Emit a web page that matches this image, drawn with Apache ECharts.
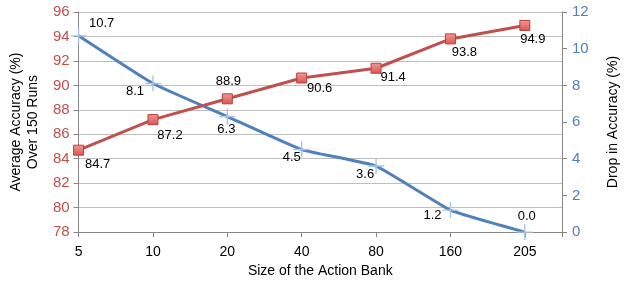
<!DOCTYPE html>
<html><head><meta charset="utf-8">
<script src="https://cdn.jsdelivr.net/npm/echarts@6/dist/echarts.min.js"></script>
<style>html,body{margin:0;padding:0;background:#fff}#c{width:628px;height:283px}</style>
</head><body><div id="c"></div>
<script>
const categories = ['5', '10', '20', '40', '80', '160', '205'];
const accuracy = [84.7, 87.2, 88.9, 90.6, 91.4, 93.8, 94.9];
const drop = [10.7, 8.1, 6.3, 4.5, 3.6, 1.2, 0.0];
const leftTicks = [78, 80, 82, 84, 86, 88, 90, 92, 94, 96];
const rightTicks = [0, 2, 4, 6, 8, 10, 12];

// label offsets (style only)
const accOffsets = [[19,14],[17,16],[1,-17],[18,10],[17,9],[14,14],[8,14]];
const dropOffsets = [[23,-12],[-18,8],[-1,13],[-10,8],[-11,8],[-18,5],[2,-16]];

const FONT = 'Liberation Sans, Arial, sans-serif';
const RED = '#C0504D', BLUE = '#4F81BD';
const plus = 'path://M-0.7,-8 h1.4 v7.3 h7.3 v1.4 h-7.3 v7.3 h-1.4 v-7.3 h-7.3 v-1.4 h7.3 z';

const chart = echarts.init(document.getElementById('c'));
chart.setOption({
  animation: false,
  textStyle: { fontFamily: FONT },
  grid: { left: 77, right: 61, top: 12, bottom: 50 },
  xAxis: {
    type: 'value', min: 0, max: categories.length - 0.5, interval: 1,
    name: 'Size of the Action Bank', nameLocation: 'middle', nameGap: 31,
    nameTextStyle: { fontSize: 14, color: '#000', fontFamily: FONT },
    axisLine: { lineStyle: { color: '#868686' } },
    axisTick: { length: 5, lineStyle: { color: '#868686' } },
    axisLabel: { fontSize: 14, color: '#000', margin: 13, fontFamily: FONT,
      formatter: v => Number.isInteger(v) ? categories[v] : '' },
    splitLine: { show: false }
  },
  yAxis: [{
    type: 'value', min: leftTicks[0], max: leftTicks[leftTicks.length-1], interval: 2,
    name: 'Average Accuracy (%)\nOver 150 Runs', nameLocation: 'middle', nameGap: 34,
    nameTextStyle: { fontSize: 14, color: '#000', lineHeight: 17, fontFamily: FONT },
    axisLine: { show: true, lineStyle: { color: '#868686' } },
    axisTick: { show: true, length: 5, lineStyle: { color: '#868686' } },
    axisLabel: { fontSize: 15, color: RED, margin: 9, fontFamily: FONT },
    splitLine: { lineStyle: { color: '#BFBFBF', width: 1 } }
  }, {
    type: 'value', min: rightTicks[0], max: rightTicks[rightTicks.length-1], interval: 2,
    name: 'Drop in Accuracy (%)', nameLocation: 'middle', nameGap: 44, nameRotate: 90,
    nameTextStyle: { fontSize: 14, color: '#000', fontFamily: FONT },
    axisLine: { show: true, lineStyle: { color: '#868686' } },
    axisTick: { show: true, length: 5, lineStyle: { color: '#868686' } },
    axisLabel: { fontSize: 15, color: BLUE, margin: 10, fontFamily: FONT },
    splitLine: { show: false }
  }],
  series: [{
    type: 'line', yAxisIndex: 0,
    data: accuracy.map((v, i) => ({ value: [i, v],
      label: { offset: accOffsets[i] } })),
    lineStyle: { color: RED, width: 3 },
    symbol: 'rect', symbolSize: 10,
    itemStyle: { color: new echarts.graphic.LinearGradient(0,0,0,1,[{offset:0,color:'#F29A98'},{offset:1,color:'#D9534F'}]), borderColor: '#B8403C', borderWidth: 1 },
    label: { show: true, position: 'inside', fontSize: 13, color: '#000', fontFamily: FONT,
      formatter: p => p.value[1].toFixed(1) },
    z: 3
  }, {
    type: 'line', yAxisIndex: 1, smooth: 0.12,
    data: drop.map((v, i) => ({ value: [i, v],
      label: { offset: dropOffsets[i] } })),
    lineStyle: { color: BLUE, width: 3 },
    symbol: plus, symbolSize: 16,
    itemStyle: { color: '#A9C4E4', borderWidth: 0 },
    label: { show: true, position: 'inside', fontSize: 13, color: '#000', fontFamily: FONT,
      formatter: p => p.value[1].toFixed(1) },
    z: 2
  }]
});
</script></body></html>
